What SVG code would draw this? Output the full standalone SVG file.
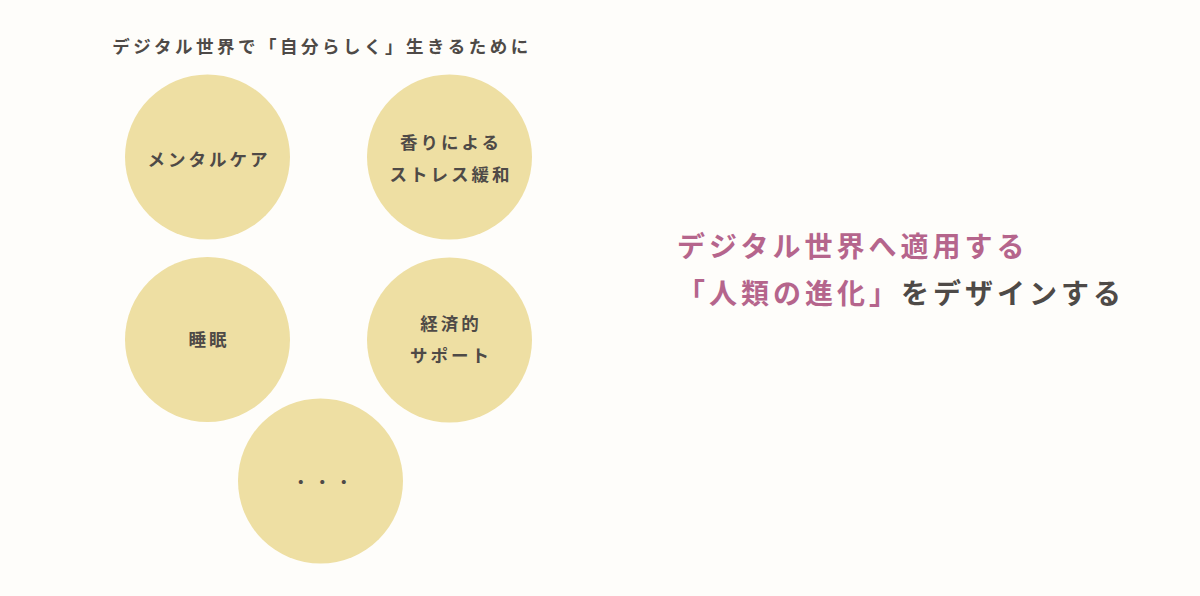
<svg xmlns="http://www.w3.org/2000/svg" width="1200" height="596" viewBox="0 0 1200 596">
<style>
.bg{fill:#FEFDFA}
.c{fill:#EEDFA3}
.t{font-family:"Noto Sans CJK JP","Noto Sans",sans-serif;font-weight:700;fill:#4E4A47;text-anchor:middle}
.n{font-size:17.5px;letter-spacing:3px}
.h{font-family:"Noto Sans CJK JP","Noto Sans",sans-serif;font-weight:700;font-size:28px;letter-spacing:4px}
.pink{fill:#B5658C}
.gray{fill:#4E4A47}
</style>
<rect class="bg" x="0" y="0" width="1200" height="596"/>
<g id="title">
<text class="t" x="322" y="53" style="font-size:17.5px;letter-spacing:3.5px">デジタル世界で「自分らしく」生きるために</text>
</g>
<g id="node-mental">
<circle class="c" cx="207.5" cy="157" r="82.5"/>
<text class="t n" x="209" y="166">メンタルケア</text>
</g>
<g id="node-aroma">
<circle class="c" cx="449.5" cy="157" r="82.5"/>
<text class="t n" x="451" y="149">香りによる</text>
<text class="t n" x="451" y="181">ストレス緩和</text>
</g>
<g id="node-sleep">
<circle class="c" cx="207.5" cy="339.5" r="82.5"/>
<text class="t n" x="209" y="346">睡眠</text>
</g>
<g id="node-economic">
<circle class="c" cx="449.5" cy="340" r="82.5"/>
<text class="t n" x="451" y="330">経済的</text>
<text class="t n" x="451" y="362">サポート</text>
</g>
<g id="node-more">
<circle class="c" cx="320.5" cy="481" r="82.5"/>
<text class="t" x="325" y="488" style="font-size:16px;letter-spacing:5.5px">・・・</text>
</g>
<g id="connectors"></g>
<g id="headline">
<text class="h pink" x="677" y="257">デジタル世界へ適用する</text>
<text class="h" x="677" y="304"><tspan class="pink">「人類の進化」</tspan><tspan class="gray">をデザインする</tspan></text>
</g>
</svg>
